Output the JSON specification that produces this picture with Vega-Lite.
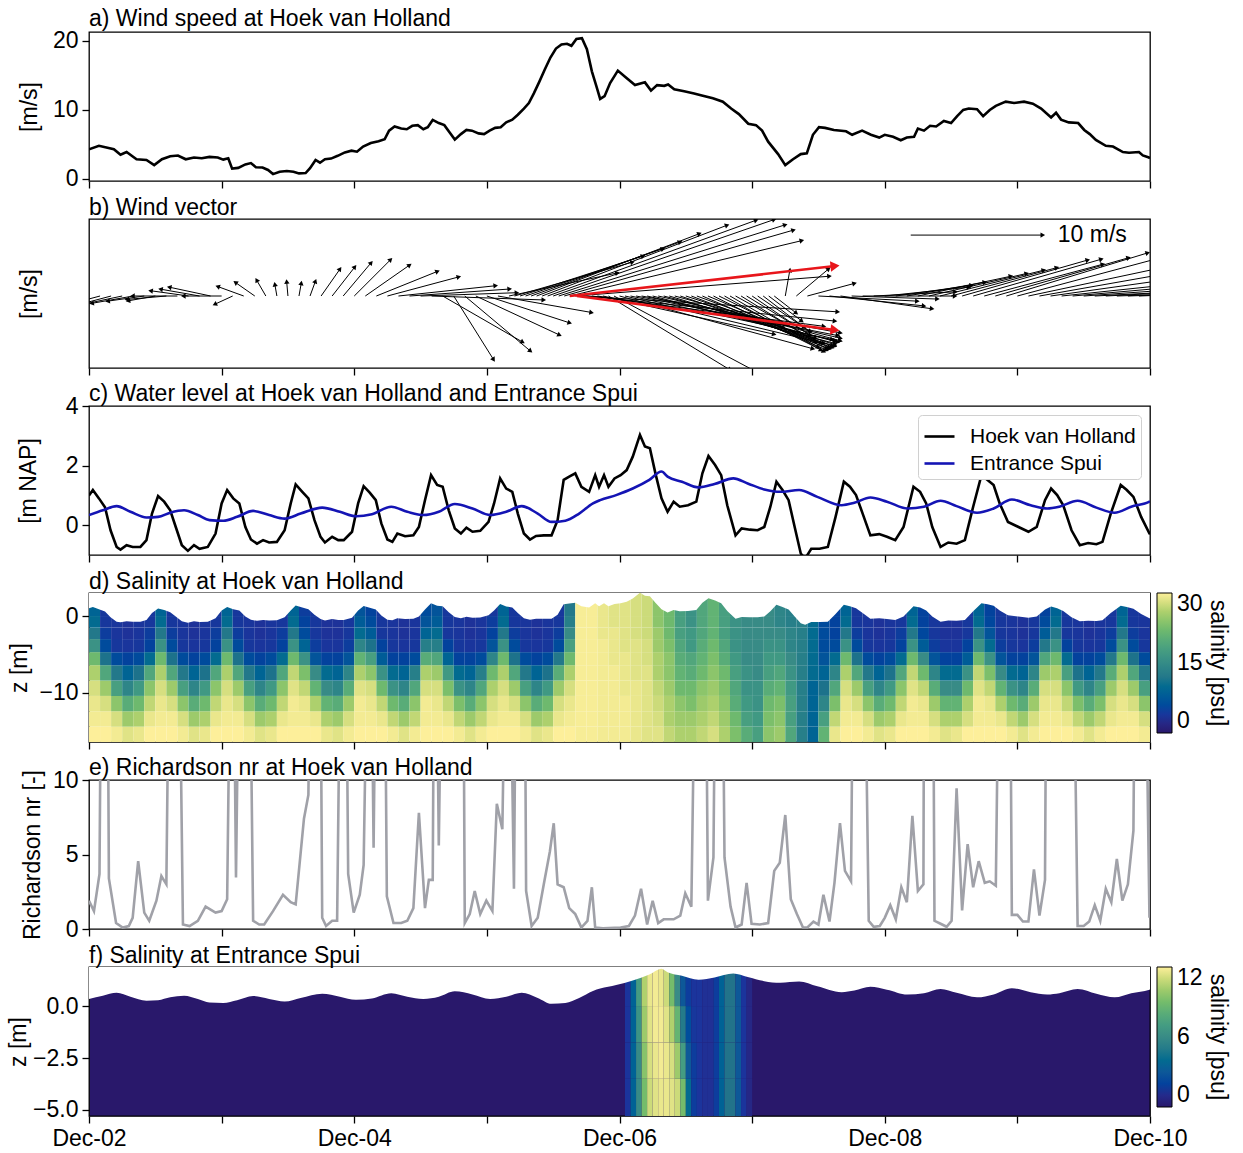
{
"$schema":"https://vega.github.io/schema/vega-lite/v6.json",
"padding":{"left":6,"top":7,"right":0,"bottom":0},
"bounds":"flush",
"spacing":38,
"config":{
 "font":"Liberation Sans",
 "view":{"stroke":"#000","strokeWidth":1.3},
 "axis":{"grid":false,"domain":false,"tickColor":"#000","tickWidth":1.3,"tickSize":7,"labelFontSize":23,"labelColor":"#000","titleFontSize":23,"titleFontWeight":"normal","titleColor":"#000","labelPadding":4},
 "title":{"anchor":"start","frame":"group","fontSize":23,"fontWeight":"normal","color":"#000","offset":0,"baseline":"alphabetic"},
 "legend":{"labelFontSize":23,"titleFontSize":23,"titleFontWeight":"normal","labelColor":"#000","titleColor":"#000"},
 "text":{"font":"Liberation Sans"}
},
"resolve":{"scale":{"x":"independent","y":"independent","color":"independent"}},
"datasets":{
 "ws":[{"h":0,"v":4.3},{"h":1.8,"v":4.8},{"h":4.5,"v":4.3},{"h":5.7,"v":3.5},{"h":6.8,"v":3.9},{"h":8.6,"v":2.85},{"h":10.4,"v":2.75},{"h":11.8,"v":2.0},{"h":13.2,"v":2.85},{"h":14.7,"v":3.3},{"h":16.1,"v":3.4},{"h":17.5,"v":2.85},{"h":19,"v":3.1},{"h":20.4,"v":3.0},{"h":21.8,"v":3.2},{"h":23.3,"v":3.1},{"h":24.3,"v":2.8},{"h":25.2,"v":3.0},{"h":25.9,"v":1.5},{"h":27,"v":1.6},{"h":28.3,"v":2.1},{"h":29.3,"v":2.3},{"h":30.2,"v":1.7},{"h":31.4,"v":1.65},{"h":32.4,"v":1.3},{"h":33.3,"v":0.7},{"h":34.5,"v":1.05},{"h":35.8,"v":1.15},{"h":37,"v":1.05},{"h":38,"v":0.8},{"h":39.2,"v":0.85},{"h":40,"v":1.55},{"h":41,"v":2.75},{"h":41.8,"v":2.35},{"h":42.7,"v":2.85},{"h":43.8,"v":2.95},{"h":45,"v":3.35},{"h":46.3,"v":3.85},{"h":47.5,"v":4.1},{"h":48.5,"v":3.95},{"h":49.6,"v":4.7},{"h":51,"v":5.2},{"h":52.4,"v":5.45},{"h":53.5,"v":5.75},{"h":54.3,"v":7.0},{"h":55.3,"v":7.6},{"h":56.5,"v":7.3},{"h":57.5,"v":7.2},{"h":58.5,"v":7.7},{"h":59.5,"v":7.8},{"h":60.5,"v":7.2},{"h":61.3,"v":7.5},{"h":62.2,"v":8.55},{"h":63.3,"v":8.1},{"h":64.3,"v":7.8},{"h":65.3,"v":6.7},{"h":66.2,"v":5.7},{"h":67.3,"v":6.5},{"h":68.3,"v":7.1},{"h":69.3,"v":7.0},{"h":70.5,"v":6.6},{"h":71.5,"v":6.5},{"h":72.5,"v":7.0},{"h":73.5,"v":7.4},{"h":74.5,"v":7.5},{"h":75.5,"v":8.2},{"h":76.6,"v":8.6},{"h":77.6,"v":9.3},{"h":78.7,"v":10.2},{"h":79.6,"v":11.0},{"h":80.5,"v":12.4},{"h":81.5,"v":14.1},{"h":82.5,"v":15.9},{"h":83.5,"v":17.6},{"h":84.5,"v":18.9},{"h":85.5,"v":19.5},{"h":86.5,"v":19.6},{"h":87.3,"v":19.3},{"h":88.2,"v":20.3},{"h":89.2,"v":20.4},{"h":90.1,"v":18.8},{"h":91,"v":15.6},{"h":91.8,"v":13.5},{"h":92.5,"v":11.6},{"h":93.3,"v":12.0},{"h":94.3,"v":13.9},{"h":95.7,"v":15.7},{"h":97,"v":14.8},{"h":98.8,"v":13.6},{"h":100.6,"v":14.0},{"h":101.7,"v":12.8},{"h":102.8,"v":13.6},{"h":104.1,"v":13.5},{"h":104.8,"v":13.7},{"h":105.9,"v":13.0},{"h":107.7,"v":12.7},{"h":109.5,"v":12.4},{"h":110.9,"v":12.1},{"h":112.9,"v":11.7},{"h":114.7,"v":11.2},{"h":116.2,"v":10.2},{"h":117.6,"v":9.4},{"h":119.3,"v":8.0},{"h":120.7,"v":7.8},{"h":121.8,"v":7.0},{"h":122.9,"v":5.4},{"h":124.7,"v":3.6},{"h":126,"v":2.0},{"h":127.4,"v":2.85},{"h":128.8,"v":3.6},{"h":129.9,"v":3.7},{"h":131,"v":6.4},{"h":132.1,"v":7.5},{"h":133.2,"v":7.4},{"h":134.8,"v":7.1},{"h":137,"v":6.9},{"h":138.1,"v":6.4},{"h":139.9,"v":7.0},{"h":141.5,"v":6.4},{"h":143,"v":6.0},{"h":144,"v":6.4},{"h":145.5,"v":6.1},{"h":146.9,"v":5.6},{"h":148,"v":6.0},{"h":149.3,"v":6.1},{"h":150,"v":7.3},{"h":151.1,"v":7.0},{"h":152.2,"v":7.7},{"h":153.3,"v":7.6},{"h":154.7,"v":8.4},{"h":156,"v":8.1},{"h":157.1,"v":9.1},{"h":158.2,"v":10.0},{"h":159.2,"v":10.2},{"h":160.7,"v":10.1},{"h":161.8,"v":9.1},{"h":163,"v":10.0},{"h":164.1,"v":10.6},{"h":165.9,"v":11.2},{"h":167.4,"v":11.0},{"h":169.2,"v":11.2},{"h":170.8,"v":10.9},{"h":172.3,"v":10.2},{"h":174.1,"v":8.9},{"h":175,"v":9.6},{"h":175.9,"v":8.6},{"h":177.3,"v":8.2},{"h":179,"v":8.1},{"h":180.1,"v":7.1},{"h":181.1,"v":6.5},{"h":182.2,"v":5.65},{"h":184,"v":4.8},{"h":185.3,"v":4.7},{"h":187.1,"v":3.9},{"h":188.2,"v":3.8},{"h":190,"v":3.9},{"h":190.7,"v":3.4},{"h":191.8,"v":3.1},{"h":192,"v":3.0}],
 "wv":[{"h":0,"he":-9.93,"ve":-1.11,"dir":195,"o":0},{"h":2,"he":-9.08,"ve":-1.24,"dir":195,"o":0},{"h":4,"he":-5.93,"ve":-1.11,"dir":195,"o":0},{"h":6,"he":-2.65,"ve":-0.77,"dir":192,"o":0},{"h":8,"he":0.47,"ve":-0.56,"dir":190,"o":0},{"h":10,"he":3.37,"ve":-0.39,"dir":188,"o":0},{"h":12,"he":7.06,"ve":-0.37,"dir":190,"o":0},{"h":14,"he":6.86,"ve":-0.26,"dir":185,"o":0},{"h":16,"he":7.87,"ve":0,"dir":180,"o":0},{"h":18,"he":11.14,"ve":0.4,"dir":172,"o":0},{"h":20,"he":12.94,"ve":0.52,"dir":170,"o":0},{"h":22,"he":14.52,"ve":0.67,"dir":168,"o":0},{"h":24,"he":17.07,"ve":0,"dir":180,"o":0},{"h":26,"he":22.75,"ve":-0.63,"dir":205,"o":0},{"h":28,"he":23.28,"ve":0.72,"dir":160,"o":0},{"h":30,"he":26.48,"ve":1.03,"dir":145,"o":0},{"h":32,"he":30.33,"ve":1.21,"dir":120,"o":0},{"h":34,"he":33.63,"ve":0.89,"dir":100,"o":0},{"h":36,"he":35.77,"ve":1.1,"dir":95,"o":0},{"h":38,"he":38.42,"ve":0.99,"dir":80,"o":0},{"h":40,"he":40.98,"ve":1.13,"dir":70,"o":0},{"h":42,"he":45.43,"ve":2.05,"dir":55,"o":0},{"h":44,"he":48.12,"ve":2.21,"dir":52,"o":0},{"h":46,"he":51.07,"ve":2.53,"dir":50,"o":0},{"h":48,"he":54.59,"ve":2.76,"dir":45,"o":0},{"h":50,"he":58.03,"ve":2.35,"dir":35,"o":0},{"h":52,"he":63.08,"ve":1.87,"dir":22,"o":0},{"h":54,"he":66.93,"ve":1.45,"dir":15,"o":0},{"h":56,"he":73.6,"ve":0.78,"dir":6,"o":0},{"h":58,"he":76.13,"ve":0.53,"dir":4,"o":0},{"h":60,"he":77.44,"ve":0.25,"dir":2,"o":0},{"h":62,"he":82.3,"ve":-0.3,"dir":-2,"o":0},{"h":64,"he":78.49,"ve":-3.5,"dir":-30,"o":0},{"h":66,"he":73.22,"ve":-4.83,"dir":-58,"o":0},{"h":68,"he":79.9,"ve":-4.18,"dir":-40,"o":0},{"h":70,"he":85.16,"ve":-2.96,"dir":-25,"o":0},{"h":72,"he":87.0,"ve":-2.04,"dir":-18,"o":0},{"h":74,"he":90.95,"ve":-1.25,"dir":-10,"o":0},{"h":76,"he":95.63,"ve":1.75,"dir":12,"o":0},{"h":77,"he":98.36,"ve":2.57,"dir":16,"o":0},{"h":78,"he":100.27,"ve":3.03,"dir":18,"o":0},{"h":79,"he":103.87,"ve":3.59,"dir":19,"o":0},{"h":80,"he":106.96,"ve":4.1,"dir":20,"o":0},{"h":81,"he":110.47,"ve":4.73,"dir":21,"o":0},{"h":82,"he":115.48,"ve":5.37,"dir":21,"o":0},{"h":83,"he":120.74,"ve":5.75,"dir":20,"o":0},{"h":84,"he":124.0,"ve":5.8,"dir":19,"o":0},{"h":85,"he":126.0,"ve":5.4,"dir":17,"o":0},{"h":86,"he":127.5,"ve":5.0,"dir":16,"o":0},{"h":87,"he":129.0,"ve":4.2,"dir":13,"o":0},{"h":88,"he":134.0,"ve":1.5,"dir":4.5,"o":0},{"h":89,"he":135.5,"ve":-1.2,"dir":-3.5,"o":0},{"h":90,"he":135.0,"ve":-1.9,"dir":-5.7,"o":0},{"h":91,"he":133.0,"ve":-2.3,"dir":-7.4,"o":0},{"h":92,"he":126.0,"ve":-2.2,"dir":-8.8,"o":0},{"h":93,"he":124.0,"ve":-2.9,"dir":-12.6,"o":0},{"h":94,"he":116.0,"ve":-5.6,"dir":-31,"o":0},{"h":95,"he":121.0,"ve":-5.8,"dir":-28,"o":0},{"h":96,"he":131.0,"ve":-4.0,"dir":-15,"o":0},{"h":97,"he":133.0,"ve":-3.6,"dir":-13.4,"o":0},{"h":98,"he":134.5,"ve":-3.3,"dir":-12,"o":0},{"h":99,"he":135.5,"ve":-3.0,"dir":-11,"o":0},{"h":100,"he":136.0,"ve":-2.8,"dir":-10.5,"o":0},{"h":101,"he":135.0,"ve":-3.4,"dir":-13.4,"o":0},{"h":102,"he":135.0,"ve":-3.6,"dir":-14.6,"o":0},{"h":103,"he":136.0,"ve":-3.2,"dir":-13,"o":0},{"h":104,"he":135.5,"ve":-3.5,"dir":-14.9,"o":0},{"h":105,"he":135.0,"ve":-3.8,"dir":-16.8,"o":0},{"h":106,"he":136.0,"ve":-3.4,"dir":-15.1,"o":0},{"h":107,"he":134.5,"ve":-3.9,"dir":-18.7,"o":0},{"h":108,"he":135.0,"ve":-3.7,"dir":-18.1,"o":0},{"h":109,"he":134.0,"ve":-4.0,"dir":-20.9,"o":0},{"h":110,"he":134.5,"ve":-3.8,"dir":-20.3,"o":0},{"h":111,"he":133.5,"ve":-4.1,"dir":-23.5,"o":0},{"h":112,"he":134.0,"ve":-3.9,"dir":-22.9,"o":0},{"h":113,"he":133.0,"ve":-4.2,"dir":-26.6,"o":0},{"h":114,"he":133.5,"ve":-4.0,"dir":-26.1,"o":0},{"h":115,"he":132.5,"ve":-4.1,"dir":-29.2,"o":0},{"h":116,"he":132.0,"ve":-3.9,"dir":-30.2,"o":0},{"h":117,"he":132.5,"ve":-3.6,"dir":-29,"o":0},{"h":118,"he":131.5,"ve":-3.5,"dir":-31.8,"o":0},{"h":119,"he":131.5,"ve":-3.2,"dir":-31.4,"o":0},{"h":120,"he":130.5,"ve":-3.0,"dir":-34.3,"o":0},{"h":121,"he":130.5,"ve":-2.7,"dir":-34.1,"o":0},{"h":122,"he":129.5,"ve":-2.4,"dir":-37.4,"o":0},{"h":123,"he":129.0,"ve":-1.9,"dir":-37.1,"o":0},{"h":124,"he":128.0,"ve":-1.3,"dir":-37.7,"o":0},{"h":126,"he":126.83,"ve":1.97,"dir":80,"o":0},{"h":128,"he":133.86,"ve":2.06,"dir":40,"o":0},{"h":130,"he":138.54,"ve":0.96,"dir":15,"o":0},{"h":132,"he":149.9,"ve":-0.39,"dir":-3,"o":0},{"h":134,"he":151.11,"ve":-0.75,"dir":-6,"o":0},{"h":136,"he":152.57,"ve":-0.97,"dir":-8,"o":0},{"h":138,"he":153.53,"ve":-0.23,"dir":-2,"o":0},{"h":140,"he":156.73,"ve":0,"dir":0,"o":0},{"h":142,"he":156.8,"ve":0.32,"dir":3,"o":0},{"h":144,"he":159.21,"ve":0.67,"dir":6,"o":0},{"h":146,"he":159.73,"ve":0.81,"dir":8,"o":0},{"h":148,"he":162.12,"ve":1.04,"dir":10,"o":0},{"h":150,"he":166.83,"ve":1.5,"dir":12,"o":0},{"h":152,"he":169.69,"ve":1.71,"dir":13,"o":0},{"h":154,"he":172.78,"ve":1.96,"dir":14,"o":0},{"h":156,"he":175.16,"ve":2.15,"dir":15,"o":0},{"h":158,"he":180.74,"ve":2.73,"dir":16,"o":0},{"h":160,"he":183.2,"ve":2.79,"dir":16,"o":0},{"h":162,"he":183.47,"ve":2.41,"dir":15,"o":0},{"h":164,"he":188.12,"ve":2.9,"dir":16,"o":0},{"h":166,"he":191.59,"ve":3.27,"dir":17,"o":0},{"h":168,"he":193.63,"ve":2.87,"dir":15,"o":0},{"h":170,"he":195.71,"ve":2.29,"dir":12,"o":0},{"h":172,"he":196.48,"ve":1.81,"dir":10,"o":0},{"h":174,"he":195.3,"ve":1.25,"dir":8,"o":0},{"h":176,"he":196.2,"ve":0.89,"dir":6,"o":0},{"h":178,"he":197.28,"ve":0.71,"dir":5,"o":0},{"h":180,"he":196.93,"ve":0.5,"dir":4,"o":0},{"h":182,"he":195.84,"ve":0.3,"dir":3,"o":0},{"h":184,"he":195.46,"ve":0.25,"dir":3,"o":0},{"h":186,"he":196.27,"ve":0.15,"dir":2,"o":0},{"h":188,"he":197.08,"ve":0.13,"dir":2,"o":0},{"h":190,"he":198.6,"ve":0.13,"dir":2,"o":0}],
 "wr":[{"h":87,"he":135.0,"ve":2.27,"dir":6.4,"o":0},{"h":88.3,"he":135.0,"ve":-2.58,"dir":-7.5,"o":0}],
 "key":[{"h":148.7,"he":172.6,"v":4.62,"dir":0,"label":"10 m/s"}],
 "hvh":[{"h":0,"v":1.0,"l":"H"},{"h":0.7,"v":1.18,"l":"H"},{"h":1.8,"v":0.9,"l":"H"},{"h":2.9,"v":0.6,"l":"H"},{"h":3.9,"v":-0.17,"l":"H"},{"h":5.0,"v":-0.73,"l":"H"},{"h":5.7,"v":-0.82,"l":"H"},{"h":6.8,"v":-0.67,"l":"H"},{"h":7.9,"v":-0.73,"l":"H"},{"h":9.3,"v":-0.73,"l":"H"},{"h":10.4,"v":-0.5,"l":"H"},{"h":11.4,"v":0.39,"l":"H"},{"h":12.5,"v":0.98,"l":"H"},{"h":13.6,"v":0.79,"l":"H"},{"h":14.7,"v":0.5,"l":"H"},{"h":15.7,"v":-0.06,"l":"H"},{"h":16.8,"v":-0.67,"l":"H"},{"h":17.9,"v":-0.86,"l":"H"},{"h":19.0,"v":-0.67,"l":"H"},{"h":20.0,"v":-0.79,"l":"H"},{"h":21.5,"v":-0.73,"l":"H"},{"h":22.9,"v":-0.28,"l":"H"},{"h":24.0,"v":0.73,"l":"H"},{"h":25.0,"v":1.18,"l":"H"},{"h":26.1,"v":0.9,"l":"H"},{"h":27.2,"v":0.73,"l":"H"},{"h":28.3,"v":-0.06,"l":"H"},{"h":29.3,"v":-0.48,"l":"H"},{"h":30.4,"v":-0.62,"l":"H"},{"h":31.5,"v":-0.5,"l":"H"},{"h":32.6,"v":-0.58,"l":"H"},{"h":34.0,"v":-0.56,"l":"H"},{"h":35.4,"v":-0.17,"l":"H"},{"h":36.5,"v":0.73,"l":"H"},{"h":37.4,"v":1.37,"l":"H"},{"h":38.6,"v":1.12,"l":"H"},{"h":39.7,"v":0.9,"l":"H"},{"h":40.8,"v":0.17,"l":"H"},{"h":41.9,"v":-0.39,"l":"H"},{"h":42.7,"v":-0.58,"l":"H"},{"h":44.0,"v":-0.39,"l":"H"},{"h":45.1,"v":-0.5,"l":"H"},{"h":46.1,"v":-0.5,"l":"H"},{"h":47.6,"v":-0.22,"l":"H"},{"h":48.7,"v":0.73,"l":"H"},{"h":49.7,"v":1.31,"l":"H"},{"h":50.8,"v":1.09,"l":"H"},{"h":51.9,"v":0.84,"l":"H"},{"h":52.9,"v":0.06,"l":"H"},{"h":54.0,"v":-0.48,"l":"H"},{"h":54.9,"v":-0.56,"l":"H"},{"h":55.8,"v":-0.28,"l":"H"},{"h":57.2,"v":-0.37,"l":"H"},{"h":58.7,"v":-0.34,"l":"H"},{"h":59.7,"v":-0.06,"l":"H"},{"h":60.8,"v":0.84,"l":"H"},{"h":61.9,"v":1.68,"l":"H"},{"h":63.0,"v":1.35,"l":"H"},{"h":64.0,"v":1.29,"l":"H"},{"h":65.1,"v":0.5,"l":"H"},{"h":66.2,"v":-0.11,"l":"H"},{"h":67.3,"v":-0.28,"l":"H"},{"h":68.3,"v":-0.08,"l":"H"},{"h":69.4,"v":-0.22,"l":"H"},{"h":70.8,"v":-0.19,"l":"H"},{"h":72.3,"v":0.11,"l":"H"},{"h":73.3,"v":0.73,"l":"H"},{"h":74.4,"v":1.57,"l":"H"},{"h":75.5,"v":1.23,"l":"H"},{"h":76.6,"v":1.12,"l":"H"},{"h":77.6,"v":0.39,"l":"H"},{"h":78.7,"v":-0.28,"l":"H"},{"h":79.8,"v":-0.48,"l":"H"},{"h":80.9,"v":-0.36,"l":"H"},{"h":82.3,"v":-0.34,"l":"H"},{"h":83.7,"v":-0.34,"l":"H"},{"h":84.8,"v":0.17,"l":"H"},{"h":85.9,"v":1.52,"l":"H"},{"h":86.9,"v":1.63,"l":"H"},{"h":88.0,"v":1.74,"l":"H"},{"h":89.1,"v":1.29,"l":"H"},{"h":90.5,"v":1.12,"l":"H"},{"h":91.6,"v":1.68,"l":"H"},{"h":92.3,"v":1.29,"l":"H"},{"h":93.2,"v":1.68,"l":"H"},{"h":94.0,"v":1.29,"l":"H"},{"h":95.1,"v":1.57,"l":"H"},{"h":96.2,"v":1.68,"l":"H"},{"h":97.3,"v":1.85,"l":"H"},{"h":98.4,"v":2.3,"l":"H"},{"h":99.7,"v":3.03,"l":"H"},{"h":100.6,"v":2.64,"l":"H"},{"h":101.5,"v":2.58,"l":"H"},{"h":102.5,"v":1.74,"l":"H"},{"h":103.6,"v":0.9,"l":"H"},{"h":104.7,"v":0.45,"l":"H"},{"h":105.8,"v":0.79,"l":"H"},{"h":106.9,"v":0.62,"l":"H"},{"h":108.4,"v":0.67,"l":"H"},{"h":109.9,"v":0.79,"l":"H"},{"h":111.0,"v":1.74,"l":"H"},{"h":112.1,"v":2.32,"l":"H"},{"h":113.3,"v":2.02,"l":"H"},{"h":114.4,"v":1.68,"l":"H"},{"h":115.5,"v":0.67,"l":"H"},{"h":117.0,"v":-0.34,"l":"H"},{"h":118.1,"v":-0.11,"l":"H"},{"h":119.6,"v":-0.15,"l":"H"},{"h":121.0,"v":-0.17,"l":"H"},{"h":122.2,"v":-0.06,"l":"H"},{"h":123.3,"v":0.62,"l":"H"},{"h":124.4,"v":1.46,"l":"H"},{"h":125.5,"v":1.18,"l":"H"},{"h":126.6,"v":0.84,"l":"H"},{"h":127.7,"v":-0.06,"l":"H"},{"h":128.8,"v":-0.95,"l":"H"},{"h":129.6,"v":-1.12,"l":"H"},{"h":130.7,"v":-0.79,"l":"H"},{"h":132.2,"v":-0.79,"l":"H"},{"h":133.7,"v":-0.73,"l":"H"},{"h":135.1,"v":0.28,"l":"H"},{"h":136.6,"v":1.46,"l":"H"},{"h":137.7,"v":1.29,"l":"H"},{"h":138.8,"v":1.01,"l":"H"},{"h":140.0,"v":0.39,"l":"H"},{"h":141.4,"v":-0.34,"l":"H"},{"h":143.0,"v":-0.3,"l":"H"},{"h":144.4,"v":-0.39,"l":"H"},{"h":145.9,"v":-0.5,"l":"H"},{"h":147.4,"v":-0.06,"l":"H"},{"h":149.2,"v":1.29,"l":"H"},{"h":150.4,"v":1.12,"l":"H"},{"h":151.5,"v":0.73,"l":"H"},{"h":152.6,"v":-0.06,"l":"H"},{"h":154.1,"v":-0.73,"l":"H"},{"h":155.5,"v":-0.58,"l":"H"},{"h":157.0,"v":-0.62,"l":"H"},{"h":158.5,"v":-0.5,"l":"H"},{"h":160.0,"v":0.62,"l":"H"},{"h":161.5,"v":1.68,"l":"H"},{"h":162.6,"v":1.52,"l":"H"},{"h":163.7,"v":1.35,"l":"H"},{"h":164.8,"v":0.73,"l":"H"},{"h":166.3,"v":0.11,"l":"H"},{"h":168.2,"v":-0.06,"l":"H"},{"h":170.0,"v":-0.22,"l":"H"},{"h":171.5,"v":-0.06,"l":"H"},{"h":173.0,"v":0.84,"l":"H"},{"h":174.1,"v":1.23,"l":"H"},{"h":175.2,"v":1.01,"l":"H"},{"h":176.3,"v":0.67,"l":"H"},{"h":177.8,"v":-0.17,"l":"H"},{"h":179.3,"v":-0.67,"l":"H"},{"h":180.8,"v":-0.6,"l":"H"},{"h":182.3,"v":-0.64,"l":"H"},{"h":183.4,"v":-0.56,"l":"H"},{"h":184.9,"v":0.39,"l":"H"},{"h":186.7,"v":1.35,"l":"H"},{"h":187.8,"v":1.18,"l":"H"},{"h":189.0,"v":0.95,"l":"H"},{"h":190.4,"v":0.28,"l":"H"},{"h":191.9,"v":-0.28,"l":"H"},{"h":192,"v":-0.3,"l":"H"}],
 "spui":[{"h":0,"v":0.34,"l":"S"},{"h":2.5,"v":0.5,"l":"S"},{"h":5.0,"v":0.64,"l":"S"},{"h":7.5,"v":0.45,"l":"S"},{"h":10.4,"v":0.26,"l":"S"},{"h":12.5,"v":0.28,"l":"S"},{"h":14.7,"v":0.42,"l":"S"},{"h":17.2,"v":0.5,"l":"S"},{"h":19.7,"v":0.34,"l":"S"},{"h":21.8,"v":0.17,"l":"S"},{"h":24.3,"v":0.15,"l":"S"},{"h":26.8,"v":0.28,"l":"S"},{"h":29.7,"v":0.48,"l":"S"},{"h":32.6,"v":0.34,"l":"S"},{"h":35.4,"v":0.22,"l":"S"},{"h":38.3,"v":0.39,"l":"S"},{"h":42.2,"v":0.59,"l":"S"},{"h":45.4,"v":0.45,"l":"S"},{"h":48.3,"v":0.3,"l":"S"},{"h":51.2,"v":0.37,"l":"S"},{"h":54.7,"v":0.62,"l":"S"},{"h":57.6,"v":0.45,"l":"S"},{"h":60.5,"v":0.34,"l":"S"},{"h":63.3,"v":0.45,"l":"S"},{"h":66.2,"v":0.71,"l":"S"},{"h":69.4,"v":0.56,"l":"S"},{"h":72.6,"v":0.34,"l":"S"},{"h":75.5,"v":0.45,"l":"S"},{"h":78.3,"v":0.64,"l":"S"},{"h":81.2,"v":0.39,"l":"S"},{"h":83.7,"v":0.11,"l":"S"},{"h":86.2,"v":0.15,"l":"S"},{"h":88.7,"v":0.39,"l":"S"},{"h":91.2,"v":0.73,"l":"S"},{"h":92.5,"v":0.84,"l":"S"},{"h":95.4,"v":1.01,"l":"S"},{"h":98.4,"v":1.23,"l":"S"},{"h":101.4,"v":1.52,"l":"S"},{"h":103.6,"v":1.8,"l":"S"},{"h":104.7,"v":1.63,"l":"S"},{"h":107.3,"v":1.46,"l":"S"},{"h":110.3,"v":1.27,"l":"S"},{"h":113.2,"v":1.38,"l":"S"},{"h":116.6,"v":1.57,"l":"S"},{"h":119.2,"v":1.4,"l":"S"},{"h":122.2,"v":1.2,"l":"S"},{"h":125.1,"v":1.12,"l":"S"},{"h":128.5,"v":1.18,"l":"S"},{"h":131.8,"v":0.95,"l":"S"},{"h":136.2,"v":0.67,"l":"S"},{"h":138.5,"v":0.75,"l":"S"},{"h":141.4,"v":0.93,"l":"S"},{"h":144.4,"v":0.79,"l":"S"},{"h":148.1,"v":0.56,"l":"S"},{"h":151.1,"v":0.62,"l":"S"},{"h":154.1,"v":0.82,"l":"S"},{"h":157.0,"v":0.64,"l":"S"},{"h":160.7,"v":0.42,"l":"S"},{"h":163.7,"v":0.56,"l":"S"},{"h":167.0,"v":0.86,"l":"S"},{"h":170.4,"v":0.67,"l":"S"},{"h":173.4,"v":0.56,"l":"S"},{"h":175.6,"v":0.62,"l":"S"},{"h":178.9,"v":0.82,"l":"S"},{"h":182.3,"v":0.59,"l":"S"},{"h":185.6,"v":0.42,"l":"S"},{"h":188.6,"v":0.62,"l":"S"},{"h":191.9,"v":0.79,"l":"S"},{"h":192,"v":0.8,"l":"S"}],
 "ri":[{"h":0,"v":1.9},{"h":0.9,"v":1.2},{"h":1.9,"v":3.7},{"h":2.4,"v":30},{"h":3.2,"v":30},{"h":3.6,"v":3.4},{"h":4.9,"v":0.4},{"h":6.1,"v":0.1},{"h":7.2,"v":0.2},{"h":7.9,"v":0.75},{"h":8.9,"v":4.55},{"h":10.0,"v":1.1},{"h":10.9,"v":0.55},{"h":12.2,"v":1.9},{"h":13.1,"v":3.55},{"h":14.0,"v":3.0},{"h":14.8,"v":30},{"h":16.0,"v":30},{"h":17.0,"v":0.3},{"h":18.2,"v":0.2},{"h":19.7,"v":0.55},{"h":21.1,"v":1.5},{"h":22.9,"v":1.1},{"h":24.0,"v":1.2},{"h":25.0,"v":2.0},{"h":25.9,"v":30},{"h":26.6,"v":3.45},{"h":27.5,"v":30},{"h":28.8,"v":30},{"h":29.7,"v":0.55},{"h":30.8,"v":0.3},{"h":31.7,"v":0.3},{"h":33.3,"v":1.2},{"h":35.1,"v":2.3},{"h":36.5,"v":1.8},{"h":37.4,"v":1.65},{"h":38.9,"v":7.4},{"h":39.7,"v":9.0},{"h":40.4,"v":30},{"h":41.7,"v":30},{"h":42.2,"v":0.75},{"h":42.9,"v":0.2},{"h":44.0,"v":0.55},{"h":44.9,"v":0.55},{"h":45.8,"v":30},{"h":46.3,"v":30},{"h":46.9,"v":3.7},{"h":47.9,"v":1.1},{"h":49.0,"v":2.3},{"h":49.7,"v":4.3},{"h":50.8,"v":30},{"h":51.5,"v":5.45},{"h":52.2,"v":30},{"h":53.3,"v":30},{"h":53.9,"v":2.2},{"h":55.1,"v":0.4},{"h":56.5,"v":0.4},{"h":57.6,"v":0.55},{"h":58.7,"v":1.4},{"h":59.7,"v":7.8},{"h":60.8,"v":1.4},{"h":61.5,"v":3.3},{"h":62.2,"v":3.3},{"h":62.6,"v":30},{"h":63.3,"v":5.6},{"h":64.2,"v":30},{"h":67.6,"v":30},{"h":68.0,"v":0.4},{"h":68.9,"v":1.0},{"h":69.8,"v":2.55},{"h":70.8,"v":1.0},{"h":71.9,"v":1.9},{"h":73.0,"v":1.2},{"h":73.8,"v":8.4},{"h":74.8,"v":6.7},{"h":75.8,"v":30},{"h":76.9,"v":2.7},{"h":77.5,"v":30},{"h":78.7,"v":30},{"h":79.1,"v":2.55},{"h":80.1,"v":0.2},{"h":81.2,"v":0.75},{"h":82.3,"v":3.0},{"h":83.4,"v":5.2},{"h":84.1,"v":7.1},{"h":84.8,"v":3.0},{"h":85.9,"v":2.8},{"h":86.9,"v":1.4},{"h":88.0,"v":1.0},{"h":89.1,"v":0.1},{"h":90.2,"v":0.55},{"h":91.0,"v":2.8},{"h":91.6,"v":0.1},{"h":93.0,"v":0.05},{"h":96.2,"v":0.1},{"h":97.7,"v":0.2},{"h":98.8,"v":0.9},{"h":99.9,"v":2.7},{"h":101.0,"v":0.3},{"h":102.0,"v":1.9},{"h":103.0,"v":0.4},{"h":104.0,"v":0.65},{"h":105.8,"v":0.65},{"h":107.0,"v":0.9},{"h":107.9,"v":2.4},{"h":109.0,"v":1.5},{"h":110.1,"v":30},{"h":111.4,"v":30},{"h":112.0,"v":1.9},{"h":113.0,"v":4.8},{"h":113.6,"v":30},{"h":114.4,"v":30},{"h":115.0,"v":4.8},{"h":116.1,"v":1.5},{"h":117.0,"v":0.1},{"h":118.1,"v":0.3},{"h":119.0,"v":3.1},{"h":119.9,"v":0.35},{"h":121.4,"v":0.3},{"h":122.9,"v":0.4},{"h":124.0,"v":3.9},{"h":125.0,"v":4.45},{"h":126.0,"v":7.65},{"h":127.0,"v":2.0},{"h":128.1,"v":1.0},{"h":129.2,"v":0.1},{"h":130.0,"v":0.1},{"h":131.1,"v":0.5},{"h":132.0,"v":0.3},{"h":132.9,"v":2.3},{"h":134.0,"v":0.5},{"h":134.9,"v":3.1},{"h":135.9,"v":7.1},{"h":136.8,"v":3.9},{"h":137.9,"v":3.2},{"h":138.5,"v":30},{"h":140.0,"v":30},{"h":141.1,"v":0.55},{"h":142.0,"v":0.15},{"h":143.1,"v":0.2},{"h":144.0,"v":0.75},{"h":145.0,"v":1.6},{"h":146.0,"v":0.65},{"h":147.0,"v":2.8},{"h":148.0,"v":1.8},{"h":149.0,"v":7.6},{"h":150.0,"v":2.55},{"h":151.0,"v":3.0},{"h":151.2,"v":30},{"h":152.6,"v":30},{"h":153.0,"v":0.55},{"h":154.1,"v":0.35},{"h":155.2,"v":0.15},{"h":156.1,"v":0.55},{"h":157.0,"v":9.45},{"h":158.0,"v":1.25},{"h":159.0,"v":5.7},{"h":160.0,"v":2.8},{"h":161.0,"v":4.55},{"h":162.1,"v":3.1},{"h":163.0,"v":3.2},{"h":164.1,"v":2.9},{"h":165.0,"v":30},{"h":166.5,"v":30},{"h":167.0,"v":0.95},{"h":168.0,"v":0.95},{"h":169.0,"v":0.5},{"h":170.0,"v":0.5},{"h":171.0,"v":4.0},{"h":172.0,"v":0.9},{"h":173.0,"v":3.3},{"h":173.4,"v":30},{"h":177.8,"v":30},{"h":178.9,"v":0.2},{"h":180.0,"v":0.2},{"h":181.0,"v":0.5},{"h":182.0,"v":1.6},{"h":183.0,"v":0.55},{"h":184.0,"v":2.7},{"h":185.0,"v":1.8},{"h":186.0,"v":4.7},{"h":187.0,"v":1.9},{"h":188.0,"v":3.0},{"h":189.0,"v":6.6},{"h":189.5,"v":30},{"h":190.8,"v":30},{"h":191.9,"v":0.75}],
 "sd":[{"h":0,"s":[30,29.5,29,28,26,22,16,12,10,9]},{"h":2,"s":[30,29.5,28,25,19,11,6,4.5,4,4]},{"h":4,"s":[29.5,28,24,18,12,6,4,3.8,3.8,3.8]},{"h":6,"s":[28.5,25,20,14,9,5,3.8,3.5,3.5,3.5]},{"h":8,"s":[29,26,22,17,11,6,4,3.8,3.8,3.8]},{"h":10,"s":[30,29,27,24,19,10,5,4.5,4,4]},{"h":12,"s":[30,29.5,29,28,26,22,16,12,10,9]},{"h":14,"s":[30,29.5,28,25,19,11,6,4.5,4,4]},{"h":16,"s":[29.5,28,24,18,12,6,4,3.8,3.8,3.8]},{"h":18,"s":[28.5,25,20,14,9,5,3.8,3.5,3.5,3.5]},{"h":20,"s":[29,26,22,17,11,6,4,3.8,3.8,3.8]},{"h":22,"s":[30,29,27,24,19,10,5,4.5,4,4]},{"h":24,"s":[30,29.5,29,28,26,22,16,12,10,9]},{"h":26,"s":[30,29.5,28,25,19,11,6,4.5,4,4]},{"h":28,"s":[29.5,28,24,18,12,6,4,3.8,3.8,3.8]},{"h":30,"s":[28.5,25,20,14,9,5,3.8,3.5,3.5,3.5]},{"h":32,"s":[29,26,22,17,11,6,4,3.8,3.8,3.8]},{"h":34,"s":[30,29,27,24,19,10,5,4.5,4,4]},{"h":36,"s":[30,29.5,29.5,28.5,27,22,16,12,10,9]},{"h":38,"s":[30,29.5,29,27,23,16,9,6,5,4.5]},{"h":40,"s":[30,29,26,21,15,7,4.5,4,4,4]},{"h":42,"s":[29,26,21,15,10,5,3.8,3.5,3.5,3.5]},{"h":44,"s":[28.5,25,20,14,9,5,3.8,3.5,3.5,3.5]},{"h":46,"s":[29.5,28,25,20,14,7,4.5,4,4,4]},{"h":48,"s":[30,29.5,29.5,28.5,26,21,14,10,8,7]},{"h":50,"s":[30,29.5,29,28,24,18,11,8,6,5]},{"h":52,"s":[30,29,27,22,16,8,5,4,4,4]},{"h":54,"s":[29.5,27,22,16,10,5,4,3.8,3.8,3.8]},{"h":56,"s":[28.5,25,20,14,9,5,3.8,3.5,3.5,3.5]},{"h":58,"s":[29.5,27,24,19,13,6,4,3.8,3.8,3.8]},{"h":60,"s":[30,29.5,29.5,28,26,20,13,9,7,6]},{"h":62,"s":[30,29.5,29,28,25,19,13,10,8,7]},{"h":64,"s":[30,29,27,23,17,9,5,4,4,4]},{"h":66,"s":[29.5,27,23,16,10,5,4,3.8,3.8,3.8]},{"h":68,"s":[28.5,25,20,14,9,5,3.8,3.5,3.5,3.5]},{"h":70,"s":[29.5,27,24,19,13,6,4,3.8,3.8,3.8]},{"h":72,"s":[30,29,28,26,22,14,7,5,4.5,4]},{"h":74,"s":[30,29.5,29,28,26,22,16,12,10,9]},{"h":76,"s":[30,29.5,28,25,19,11,6,4.5,4,4]},{"h":78,"s":[29.5,28,24,18,12,6,4,3.8,3.8,3.8]},{"h":80,"s":[28.5,25,20,14,9,5,3.8,3.5,3.5,3.5]},{"h":82,"s":[29,26,22,17,11,6,4,3.8,3.8,3.8]},{"h":84,"s":[30,29,28,25,20,12,6,4.5,4,4]},{"h":86,"s":[30,29.5,29,28,26,22,18,15,13,12]},{"h":88,"s":[29.7,29.7,29.7,29.7,29.7,29.7,29.7,29.7,29.7,29.7]},{"h":90,"s":[29.7,29.7,29.7,29.7,29.7,29.7,29.7,29.7,29.7,29.7]},{"h":92,"s":[29.5,29.5,29.5,29.5,29.5,29.5,29.5,29,29,29]},{"h":94,"s":[29.5,29.5,29.5,29.5,29.5,29,29,29,28.5,28.5]},{"h":96,"s":[29.5,29.5,29.5,29,29,29,28.5,28.5,28.5,28.5]},{"h":98,"s":[29,29,29,29,28.5,28.5,28.5,28,28,28]},{"h":100,"s":[28.5,28.5,28.5,28.5,28.5,28,28,27.5,27.5,27.5]},{"h":102,"s":[28.5,28,27.5,27,26,26,25,25,24,24]},{"h":104,"s":[27,26,26,25,24,24,23,22,22,22]},{"h":106,"s":[26,25,24,22,21,20,19,18,18,18]},{"h":108,"s":[26,25,23,22,20,19,17,17,16,16]},{"h":110,"s":[27,26,25,24,22,21,20,19,19,19]},{"h":112,"s":[28,27,26,25,24,23,22,21,21,21]},{"h":114,"s":[26,25,24,23,22,20,19,18,18,18]},{"h":116,"s":[23,22,20,19,18,17,16,16,16,16]},{"h":118,"s":[20,18,17,16,16,15,15,15,15,15]},{"h":120,"s":[18,17,16,16,15,15,15,15,15,15]},{"h":122,"s":[24,23,22,20,18,17,16,15,15,15]},{"h":124,"s":[25,24,23,21,19,17,16,15,14,14]},{"h":126,"s":[19,18,18,17,16,15,14,14,13,13]},{"h":128,"s":[13,13,13,13,13,13,13,13,13,13]},{"h":130,"s":[9,9,9,9,10,10,10,10,10,10]},{"h":132,"s":[21,18,14,11,9,7,6,6,6,6]},{"h":134,"s":[29,27,23,19,14,10,6,5,5,5]},{"h":136,"s":[30,29.5,29,28,26,22,16,12,10,9]},{"h":138,"s":[30,29.5,28,25,19,11,6,4.5,4,4]},{"h":140,"s":[29.5,28,24,18,12,6,4,3.8,3.8,3.8]},{"h":142,"s":[28.5,25,20,14,9,5,3.8,3.5,3.5,3.5]},{"h":144,"s":[29,26,22,17,11,6,4,3.8,3.8,3.8]},{"h":146,"s":[30,29,27,24,19,10,5,4.5,4,4]},{"h":148,"s":[30,29.5,29.5,28.5,27,22,16,12,10,9]},{"h":150,"s":[30,29.5,29,27,22,15,8,5.5,5,5]},{"h":152,"s":[29.5,28,25,20,14,7,4.5,4,4,4]},{"h":154,"s":[28.5,26,21,15,10,5,3.8,3.5,3.5,3.5]},{"h":156,"s":[29,26,21,15,10,5,3.8,3.5,3.5,3.5]},{"h":158,"s":[30,28,26,22,16,8,5,4,4,4]},{"h":160,"s":[30,29.5,29.5,28.5,27,22,16,12,10,9]},{"h":162,"s":[30,29.5,29,27,23,16,10,7,5.5,5]},{"h":164,"s":[30,29,26,21,15,7,4.5,4,4,4]},{"h":166,"s":[29.5,27,22,16,10,5,4,3.8,3.8,3.8]},{"h":168,"s":[28.5,25,20,14,9,5,3.8,3.5,3.5,3.5]},{"h":170,"s":[29.5,28,25,20,14,7,4.5,4,4,4]},{"h":172,"s":[30,29.5,29,28,25,19,12,8,6,5]},{"h":174,"s":[30,29.5,29,28,26,22,16,12,10,9]},{"h":176,"s":[30,29,27,24,18,10,5,4,4,4]},{"h":178,"s":[29.5,27,23,17,11,5,4,3.8,3.8,3.8]},{"h":180,"s":[28.5,25,20,14,9,5,3.8,3.5,3.5,3.5]},{"h":182,"s":[29.5,27,23,18,12,6,4,3.8,3.8,3.8]},{"h":184,"s":[30,29,28,25,20,12,6,4.5,4,4]},{"h":186,"s":[30,29.5,29,28,26,22,16,12,10,9]},{"h":188,"s":[30,29.5,28,25,19,11,6,4.5,4,4]},{"h":190,"s":[29.5,28,24,18,12,6,4,3.8,3.8,3.8]}],
 "sf":[{"h":97,"s":[1.5,1.5,1.5,1.5]},{"h":98,"s":[3.5,3.5,3.5,3.5]},{"h":99,"s":[6,6,6.5,7]},{"h":100,"s":[9,9.5,10,10.5]},{"h":101,"s":[11,11.2,11.4,11.6]},{"h":102,"s":[11.4,11.6,11.8,11.8]},{"h":103,"s":[11.6,11.8,11.8,11.6]},{"h":104,"s":[11.6,11.6,11.4,11]},{"h":105,"s":[11.4,11.2,10.5,9]},{"h":106,"s":[11,10,8.5,6]},{"h":107,"s":[9,7,5,3]},{"h":108,"s":[4,3,2.5,1.8]},{"h":109,"s":[1.8,1.8,1.6,1.5]},{"h":110,"s":[1.5,1.5,1.5,1.5]},{"h":111,"s":[1.3,1.3,1.3,1.3]},{"h":112,"s":[1.3,1.3,1.3,1.3]},{"h":113,"s":[1.8,1.8,1.8,1.8]},{"h":114,"s":[3.5,3.5,3.5,3.5]},{"h":115,"s":[4.5,4.5,4.5,4.5]},{"h":116,"s":[4.5,4.5,4.5,4.5]},{"h":117,"s":[3,3,3,3]},{"h":118,"s":[1.5,1.5,1.5,1.5]},{"h":119,"s":[0.8,0.8,0.8,0.8]}]
},
"vconcat":[
 {"width":1061,"height":149,"title":{"text":"a) Wind speed at Hoek van Holland","offset":-1},
  "data":{"name":"ws"},
  "mark":{"type":"line","color":"#000","strokeWidth":2.6,"clip":true},
  "encoding":{
   "x":{"field":"h","type":"quantitative","scale":{"domain":[0,192],"nice":false,"zero":false},"axis":{"values":[0,24,48,72,96,120,144,168,192],"labels":false,"title":null}},
   "y":{"field":"v","type":"quantitative","scale":{"domain":[-0.3,21.3],"nice":false,"zero":false},"axis":{"values":[0,10,20],"title":"[m/s]","titlePadding":8,"minExtent":40,"maxExtent":40}}
  }},
 {"width":1061,"height":149,"title":{"text":"b) Wind vector","offset":-1},
  "layer":[
   {"data":{"name":"wv"},"mark":{"type":"rule","color":"#000","strokeWidth":1,"clip":true},
    "encoding":{
     "x":{"field":"h","type":"quantitative","scale":{"domain":[0,192],"nice":false,"zero":false},"axis":{"values":[0,24,48,72,96,120,144,168,192],"labels":false,"title":null}},
     "x2":{"field":"he"},
     "y":{"field":"o","type":"quantitative","scale":{"domain":[-5.46,5.84],"nice":false,"zero":false},"axis":{"labels":false,"ticks":false,"title":"[m/s]","titlePadding":8,"minExtent":40,"maxExtent":40}},
     "y2":{"field":"ve"}}},
   {"data":{"name":"wv"},"mark":{"type":"point","shape":"triangle-right","filled":true,"size":28,"color":"#000","opacity":1,"clip":true},
    "encoding":{
     "x":{"field":"he","type":"quantitative"},
     "y":{"field":"ve","type":"quantitative"},
     "angle":{"field":"dir","type":"quantitative","scale":{"domain":[-360,360],"range":[360,-360]},"legend":null}}},
   {"data":{"name":"wr"},"mark":{"type":"rule","color":"#e8161b","strokeWidth":2.6,"clip":true},
    "encoding":{"x":{"field":"h","type":"quantitative"},"x2":{"field":"he"},"y":{"field":"o","type":"quantitative"},"y2":{"field":"ve"}}},
   {"data":{"name":"wr"},"mark":{"type":"point","shape":"triangle-right","filled":true,"size":110,"color":"#e8161b","opacity":1,"clip":true},
    "encoding":{"x":{"field":"he","type":"quantitative"},"y":{"field":"ve","type":"quantitative"},
     "angle":{"field":"dir","type":"quantitative","legend":null}}},
   {"data":{"name":"key"},"mark":{"type":"rule","color":"#000","strokeWidth":1},
    "encoding":{"x":{"field":"h","type":"quantitative"},"x2":{"field":"he"},"y":{"field":"v","type":"quantitative"}}},
   {"data":{"name":"key"},"mark":{"type":"point","shape":"triangle-right","filled":true,"size":28,"color":"#000","opacity":1},
    "encoding":{"x":{"field":"he","type":"quantitative"},"y":{"field":"v","type":"quantitative"}}},
   {"data":{"name":"key"},"mark":{"type":"text","align":"left","baseline":"middle","dx":15,"fontSize":23,"color":"#000"},
    "encoding":{"x":{"field":"he","type":"quantitative"},"y":{"field":"v","type":"quantitative"},"text":{"field":"label","type":"nominal"}}}
  ]},
 {"width":1061,"height":149,"title":{"text":"c) Water level at Hoek van Holland and Entrance Spui","offset":-11},
  "layer":[
   {"data":{"name":"hvh"},"mark":{"type":"line","strokeWidth":2.6,"clip":true},
    "encoding":{
     "x":{"field":"h","type":"quantitative","scale":{"domain":[0,192],"nice":false,"zero":false},"axis":{"values":[0,24,48,72,96,120,144,168,192],"labels":false,"title":null}},
     "y":{"field":"v","type":"quantitative","scale":{"domain":[-1,4],"nice":false,"zero":false},"axis":{"values":[0,2,4],"title":"[m NAP]","titlePadding":9,"minExtent":40,"maxExtent":40}},
     "color":{"field":"l","type":"nominal","scale":{"domain":["H","S"],"range":["#000000","#1414b4"]},
      "legend":{"title":null,"orient":"top-right","offset":9,"padding":5,"fillColor":"#ffffff","strokeColor":"#d0d0d0","cornerRadius":4,"symbolType":"stroke","symbolSize":900,"symbolStrokeWidth":2.6,"labelFontSize":21,"labelOffset":14,"rowPadding":0,"labelLimit":300,"labelExpr":"datum.label === 'H' ? 'Hoek van Holland' : 'Entrance Spui'"}}}},
   {"data":{"name":"spui"},"mark":{"type":"line","strokeWidth":2.6,"interpolate":"monotone","clip":true},
    "encoding":{"x":{"field":"h","type":"quantitative"},"y":{"field":"v","type":"quantitative"},"color":{"field":"l","type":"nominal"}}}
  ]},
 {"width":1061,"height":149,"title":{"text":"d) Salinity at Hoek van Holland","offset":-1},
  "layer":[
   {"data":{"name":"sd"},
    "transform":[
     {"flatten":["s"]},
     {"window":[{"op":"row_number","as":"k"}],"groupby":["h"]},
     {"lookup":"k","from":{"data":{"values":[{"k":1,"z0":-16.4,"z1":-14.4},{"k":2,"z0":-14.4,"z1":-12.4},{"k":3,"z0":-12.4,"z1":-10.4},{"k":4,"z0":-10.4,"z1":-8.4},{"k":5,"z0":-8.4,"z1":-6.4},{"k":6,"z0":-6.4,"z1":-4.7},{"k":7,"z0":-4.7,"z1":-3.0},{"k":8,"z0":-3.0,"z1":-1.5},{"k":9,"z0":-1.5,"z1":0},{"k":10,"z0":0,"z1":3.0}]},"key":"k","fields":["z0","z1"]}},
     {"bin":{"step":2,"extent":[0,192],"nice":false},"field":"h","as":["h0","h1"]}
    ],
    "mark":{"type":"rect","clip":true},
    "encoding":{
     "x":{"field":"h0","type":"quantitative","scale":{"domain":[0,192],"nice":false,"zero":false},"axis":{"values":[0,24,48,72,96,120,144,168,192],"labels":false,"title":null}},
     "x2":{"field":"h1"},
     "y":{"field":"z0","type":"quantitative","scale":{"domain":[-16.4,3.0],"nice":false,"zero":false},"axis":{"values":[0,-10],"title":"z [m]","titlePadding":7,"minExtent":40,"maxExtent":60}},
     "y2":{"field":"z1"},
     "color":{"field":"s","type":"quantitative","scale":{"domain":[0,3.75,7.5,11.25,15,18.75,22.5,26.25,30],"range":["#29186b","#1b349c","#0d5898","#22738a","#388b86","#50a47d","#74bc6b","#b1d16d","#fdef9a"]},
      "legend":{"title":"salinity [psu]","orient":"right","offset":7,"padding":0,"direction":"vertical","gradientLength":140,"gradientThickness":15,"gradientStrokeColor":"#000","gradientStrokeWidth":1,"values":[0,15,30],"labelOffset":5,"titleOrient":"right","titleAnchor":"middle","titlePadding":3}}}},
   {"data":{"name":"hvh"},
    "transform":[{"lookup":"l","from":{"data":{"values":[{"l":"H","top":3.0},{"l":"S","top":1.88}]},"key":"l","fields":["top"]}}],
    "mark":{"type":"area","color":"#ffffff","clip":true},
    "encoding":{"x":{"field":"h","type":"quantitative"},"y":{"field":"v","type":"quantitative"},"y2":{"field":"top"}}}
  ]},
 {"width":1061,"height":149,"title":{"text":"e) Richardson nr at Hoek van Holland","offset":-11},
  "data":{"name":"ri"},
  "mark":{"type":"line","color":"#a0a1a8","strokeWidth":2.6,"clip":true},
  "encoding":{
   "x":{"field":"h","type":"quantitative","scale":{"domain":[0,192],"nice":false,"zero":false},"axis":{"values":[0,24,48,72,96,120,144,168,192],"labels":false,"title":null}},
   "y":{"field":"v","type":"quantitative","scale":{"domain":[0,10],"nice":false,"zero":false},"axis":{"values":[0,5,10],"title":"Richardson nr [-]","titlePadding":5,"minExtent":40,"maxExtent":40}}
  }},
 {"width":1061,"height":149,"title":{"text":"f) Salinity at Entrance Spui","offset":-1},
  "view":{"fill":"#29186b","stroke":"#000","strokeWidth":1.3},
  "layer":[
   {"data":{"name":"sf"},
    "transform":[
     {"flatten":["s"]},
     {"window":[{"op":"row_number","as":"k"}],"groupby":["h"]},
     {"lookup":"k","from":{"data":{"values":[{"k":1,"z0":-5.3,"z1":-3.5},{"k":2,"z0":-3.5,"z1":-1.75},{"k":3,"z0":-1.75,"z1":0},{"k":4,"z0":0,"z1":1.9}]},"key":"k","fields":["z0","z1"]}},
     {"bin":{"step":1,"extent":[0,192],"nice":false},"field":"h","as":["h0","h1"]}
    ],
    "mark":{"type":"rect","clip":true},
    "encoding":{
     "x":{"field":"h0","type":"quantitative","scale":{"domain":[0,192],"nice":false,"zero":false},"axis":{"values":[0,24,48,72,96,120,144,168,192],"title":null,"labelFlush":false,"labelOverlap":false,"labelPadding":4,"labelExpr":"datum.value % 48 === 0 ? 'Dec-' + (datum.value / 24 + 2 < 10 ? '0' : '') + (datum.value / 24 + 2) : ''"}},
     "x2":{"field":"h1"},
     "y":{"field":"z0","type":"quantitative","scale":{"domain":[-5.29,1.88],"nice":false,"zero":false},"axis":{"values":[0,-2.5,-5],"format":".1f","title":"z [m]","titlePadding":2,"minExtent":40,"maxExtent":60}},
     "y2":{"field":"z1"},
     "color":{"field":"s","type":"quantitative","scale":{"domain":[0,1.5,3,4.5,6,7.5,9,10.5,12],"range":["#29186b","#1b349c","#0d5898","#22738a","#388b86","#50a47d","#74bc6b","#b1d16d","#fdef9a"]},
      "legend":{"title":"salinity [psu]","orient":"right","offset":7,"padding":0,"direction":"vertical","gradientLength":140,"gradientThickness":15,"gradientStrokeColor":"#000","gradientStrokeWidth":1,"values":[0,6,12],"labelOffset":5,"titleOrient":"right","titleAnchor":"middle","titlePadding":3}}}},
   {"data":{"name":"spui"},
    "transform":[{"lookup":"l","from":{"data":{"values":[{"l":"H","top":3.0},{"l":"S","top":1.88}]},"key":"l","fields":["top"]}}],
    "mark":{"type":"area","color":"#ffffff","interpolate":"monotone","clip":true},
    "encoding":{"x":{"field":"h","type":"quantitative"},"y":{"field":"v","type":"quantitative"},"y2":{"field":"top"}}}
  ]}
]
}
